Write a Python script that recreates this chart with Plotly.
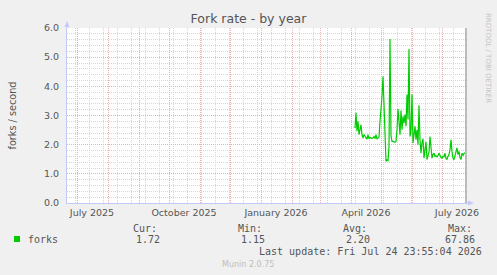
import plotly.graph_objects as go

# ---------------- data ----------------
dates = [
    "2026-04-05", "2026-04-06", "2026-04-07", "2026-04-08", "2026-04-09", "2026-04-10",
    "2026-04-11", "2026-04-12", "2026-04-13", "2026-04-14", "2026-04-15", "2026-04-16",
    "2026-04-17", "2026-04-18", "2026-04-19", "2026-04-20", "2026-04-21", "2026-04-22",
    "2026-04-23", "2026-04-24", "2026-04-25", "2026-04-26", "2026-04-27", "2026-04-28",
    "2026-04-29", "2026-04-30", "2026-05-01", "2026-05-02", "2026-05-03", "2026-05-04",
    "2026-05-05", "2026-05-06", "2026-05-07", "2026-05-08", "2026-05-09", "2026-05-10",
    "2026-05-11", "2026-05-12", "2026-05-13", "2026-05-14", "2026-05-15", "2026-05-16",
    "2026-05-17", "2026-05-18", "2026-05-19", "2026-05-20", "2026-05-21", "2026-05-22",
    "2026-05-23", "2026-05-24", "2026-05-25", "2026-05-26", "2026-05-27", "2026-05-28",
    "2026-05-29", "2026-05-30", "2026-05-31", "2026-06-01", "2026-06-02", "2026-06-03",
    "2026-06-04", "2026-06-05", "2026-06-06", "2026-06-07", "2026-06-08", "2026-06-09",
    "2026-06-10", "2026-06-11", "2026-06-12", "2026-06-13", "2026-06-14", "2026-06-15",
    "2026-06-16", "2026-06-17", "2026-06-18", "2026-06-19", "2026-06-20", "2026-06-21",
    "2026-06-22", "2026-06-23", "2026-06-24", "2026-06-25", "2026-06-26", "2026-06-27",
    "2026-06-28", "2026-06-29", "2026-06-30", "2026-07-01", "2026-07-02", "2026-07-03",
    "2026-07-04", "2026-07-05", "2026-07-06", "2026-07-07", "2026-07-08", "2026-07-09",
    "2026-07-10", "2026-07-11", "2026-07-12", "2026-07-13", "2026-07-14", "2026-07-15",
    "2026-07-16", "2026-07-17", "2026-07-18", "2026-07-19", "2026-07-20", "2026-07-21",
    "2026-07-22", "2026-07-23", "2026-07-24",
]
forks = [
    2.57, 3.09, 2.46, 2.80, 2.34, 2.55,
    2.68, 2.34, 2.23, 2.35, 2.28, 2.22,
    2.19, 2.34, 2.20, 2.25, 2.22, 2.21,
    2.24, 2.28, 2.21, 2.34, 2.19, 2.23,
    2.26, 2.80, 3.14, 3.66, 4.34, 3.10,
    1.94, 1.43, 1.48, 1.46, 1.94, 5.62,
    2.30, 2.11, 2.11, 2.09, 2.08, 2.11,
    2.51, 3.22, 2.63, 2.34, 3.17, 2.51,
    2.97, 2.74, 3.03, 2.63, 3.72, 2.86,
    5.28, 2.28, 2.50, 3.72, 2.06, 2.50,
    2.63, 2.17, 2.51, 2.00, 3.35, 2.17,
    1.71, 2.06, 2.20, 1.54, 1.89, 2.10,
    1.49, 1.60, 1.75, 2.28, 1.77, 1.54,
    1.66, 1.71, 1.60, 1.62, 1.58, 1.62,
    1.71, 1.60, 1.56, 1.54, 1.60, 1.59,
    1.71, 1.52, 1.50, 1.60, 1.66, 1.83,
    2.17, 1.77, 1.54, 1.49, 1.60, 1.71,
    1.89, 1.66, 1.77, 1.55, 1.49, 1.71,
    1.63, 1.70, 1.72,
]

x_range = ["2025-06-21", "2026-07-26"]
end_time = "2026-07-25 00:00"
month_starts = [
    "2025-07-01", "2025-08-01", "2025-09-01", "2025-10-01", "2025-11-01", "2025-12-01",
    "2026-01-01", "2026-02-01", "2026-03-01", "2026-04-01", "2026-05-01", "2026-06-01",
    "2026-07-01",
]
label_dates = ["2025-07-16", "2025-10-16", "2026-01-16", "2026-04-16", "2026-07-16"]
label_texts = ["July 2025", "October 2025", "January 2026", "April 2026", "July 2026"]
y_ticks = [0, 1, 2, 3, 4, 5, 6]
y_ticktext = ["0.0", "1.0", "2.0", "3.0", "4.0", "5.0", "6.0"]

series_name = "forks"
stat_labels = ["Cur:", "Min:", "Avg:", "Max:"]
stat_values = ["1.72", "1.15", "2.20", "67.86"]
last_update = "Last update: Fri Jul 24 23:55:04 2026"

# ---------------- styling / layout ----------------
W, H = 497, 275
L, R, T, B = 67, 30, 28, 72
PW, PH = W - L - R, H - T - B

def px(x):
    return (x - L) / PW

def py(y):
    return (H - B - y) / PH

GREEN = "#00CC00"
RED_GRID = "#EDB0B0"
GRAY_GRID = "#D6D6D6"
AXIS = "#C4CAF8"
TXT = "#555555"
SANS = "DejaVu Sans"
MONO = "DejaVu Sans Mono"

fig = go.Figure()
fig.add_trace(go.Scatter(
    x=dates, y=forks, mode="lines",
    line=dict(color=GREEN, width=1.2),
    showlegend=False, hoverinfo="skip",
))
fig.add_trace(go.Scatter(x=[], y=[], xaxis="x2", showlegend=False, hoverinfo="skip"))

fig.update_layout(
    width=W, height=H,
    margin=dict(l=L, r=R, t=T, b=B, pad=0),
    paper_bgcolor="#F0F0F0",
    plot_bgcolor="#FFFFFF",
    font=dict(family=SANS, color=TXT),
    title=dict(
        text="Fork rate - by year", x=0.5, xref="container", xanchor="center",
        y=1 - 19 / H, yref="container", yanchor="middle",
        font=dict(family=SANS, size=12.5, color=TXT),
    ),
    xaxis=dict(
        type="date", range=x_range,
        tickmode="array", tickvals=month_starts, showticklabels=False,
        showgrid=True, gridcolor=RED_GRID, gridwidth=1, griddash="1px,1px",
        minor=dict(
            tickmode="linear", tick0="2025-06-29", dtick=14 * 86400000,
            showgrid=True, gridcolor=GRAY_GRID, gridwidth=1, griddash="1px,1px",
            ticks="",
        ),
        showline=True, linecolor=AXIS, linewidth=1,
        zeroline=False, ticks="", fixedrange=True,
    ),
    xaxis2=dict(
        type="date", range=x_range, overlaying="x", anchor="y", side="bottom",
        tickmode="array", tickvals=label_dates, ticktext=label_texts,
        showgrid=False, showline=False, zeroline=False, ticks="",
        tickfont=dict(family=SANS, size=9.5, color=TXT),
        ticklabelstandoff=2,
    ),
    yaxis=dict(
        range=[0, 6],
        tickmode="array", tickvals=y_ticks, ticktext=y_ticktext,
        tickfont=dict(family=SANS, size=9.5, color=TXT),
        showgrid=True, gridcolor=RED_GRID, gridwidth=1, griddash="1px,1px",
        minor=dict(
            tickmode="linear", tick0=0, dtick=0.2,
            showgrid=True, gridcolor=GRAY_GRID, gridwidth=1, griddash="1px,1px",
            ticks="",
        ),
        showline=True, linecolor=AXIS, linewidth=1,
        zeroline=False, ticks="", ticklabelstandoff=5, fixedrange=True,
    ),
)

shapes = [
    # end-of-data vertical rule
    dict(type="line", xref="x", yref="paper", x0=end_time, x1=end_time, y0=0, y1=1,
         line=dict(color="#7A7A7A", width=1)),
    # y-axis extension + arrow
    dict(type="line", xref="paper", yref="paper", xsizemode="pixel", ysizemode="pixel",
         xanchor=0, yanchor=1, x0=0, x1=0, y0=0, y1=2, line=dict(color=AXIS, width=1)),
    dict(type="path", xref="paper", yref="paper", xsizemode="pixel", ysizemode="pixel",
         xanchor=0, yanchor=1, path="M -2.5 1 L 2.5 1 L 0 7 Z",
         fillcolor=AXIS, line=dict(width=0)),
    # x-axis extension + arrow
    dict(type="line", xref="paper", yref="paper", xsizemode="pixel", ysizemode="pixel",
         xanchor=1, yanchor=0, x0=0, x1=2, y0=0, y1=0, line=dict(color=AXIS, width=1)),
    dict(type="path", xref="paper", yref="paper", xsizemode="pixel", ysizemode="pixel",
         xanchor=1, yanchor=0, path="M 1 -2.5 L 1 2.5 L 7 0 Z",
         fillcolor=AXIS, line=dict(width=0)),
    # legend colour box
    dict(type="rect", xref="paper", yref="paper",
         x0=px(14), x1=px(20), y0=py(242), y1=py(236),
         fillcolor=GREEN, line=dict(width=0)),
]

annotations = [
    dict(text="forks / second", xref="paper", yref="paper", x=px(12), y=0.5,
         xanchor="center", yanchor="middle", textangle=-90, showarrow=False,
         font=dict(family=SANS, size=9.7, color=TXT)),
    dict(text="RRDTOOL / TOBI OETIKER", xref="paper", yref="paper", x=px(488), y=py(58),
         xanchor="center", yanchor="middle", textangle=90, showarrow=False,
         font=dict(family=SANS, size=7, color="#C4C4C4")),
    dict(text=series_name, xref="paper", yref="paper", x=px(25.5), y=py(239.3),
         xanchor="left", yanchor="middle", showarrow=False,
         font=dict(family=MONO, size=10, color=TXT)),
    dict(text=last_update, xref="paper", yref="paper", x=px(483.5), y=py(251.7),
         xanchor="right", yanchor="middle", showarrow=False,
         font=dict(family=MONO, size=10, color=TXT)),
    dict(text="Munin 2.0.75", xref="paper", yref="paper", x=px(248), y=py(264.3),
         xanchor="center", yanchor="middle", showarrow=False,
         font=dict(family=SANS, size=8, color="#BEBEBE")),
]
for k, (lab, val) in enumerate(zip(stat_labels, stat_values)):
    annotations.append(dict(text=lab, xref="paper", yref="paper", x=px(130.5 + 105 * k),
                            y=py(228.3), xanchor="left", yanchor="middle", showarrow=False,
                            font=dict(family=MONO, size=10, color=TXT)))
    annotations.append(dict(text=val, xref="paper", yref="paper", x=px(162 + 105 * k),
                            y=py(239.3), xanchor="right", yanchor="middle", showarrow=False,
                            font=dict(family=MONO, size=10, color=TXT)))

fig.update_layout(shapes=shapes, annotations=annotations)
fig.write_html("out.html")
